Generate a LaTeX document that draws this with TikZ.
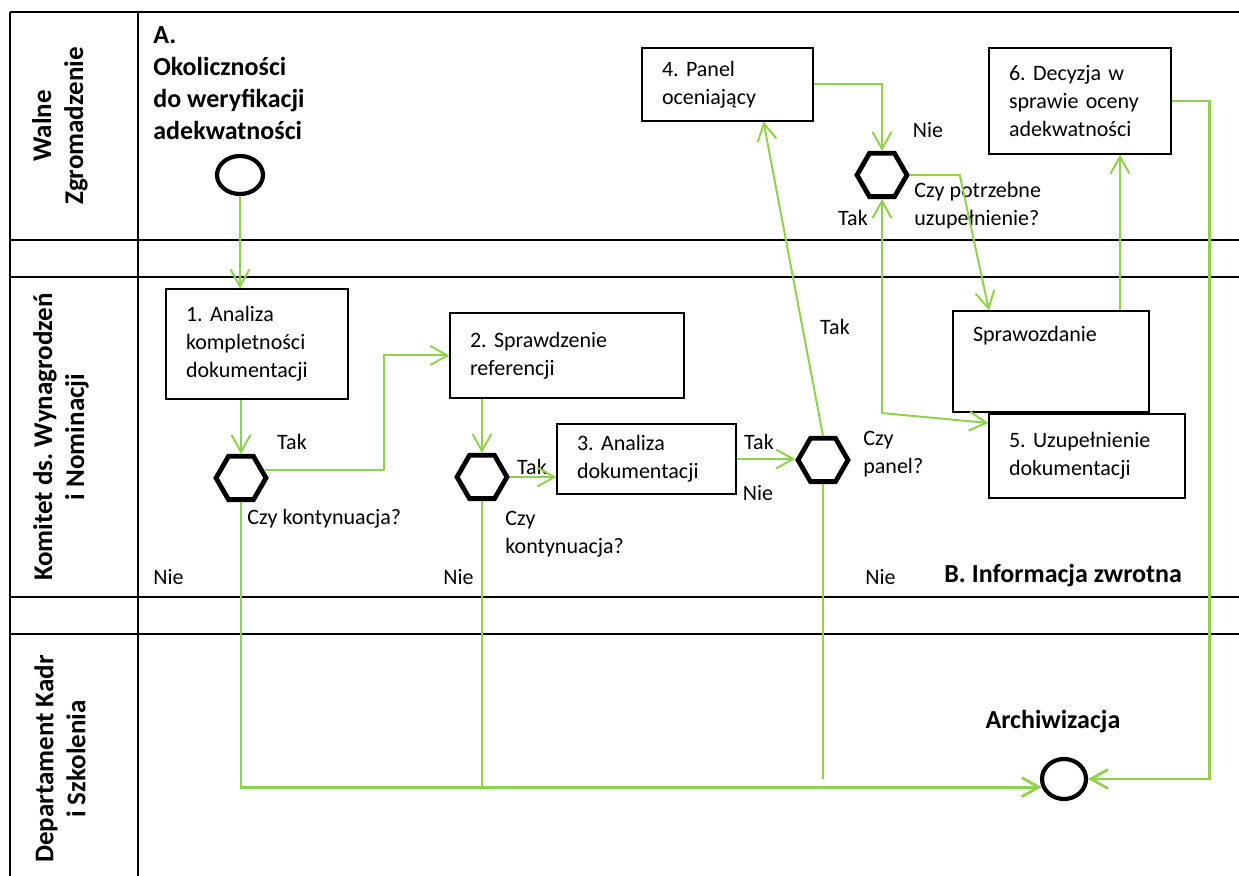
\documentclass[tikz,border=0pt]{standalone}
\usepackage{fontspec}
\setmainfont{Carlito}
\usepackage{tikz}
\usetikzlibrary{arrows.meta,shapes.geometric}
\definecolor{yellowgreen3}{RGB}{146,208,80}
\frenchspacing

\begin{document}
\begin{tikzpicture}
  [x=0.5pt,y=-0.5pt,>={Straight Barb[length=8.5pt,width=9.5pt]},
    every node/.style={font=\fontsize{11}{14}\selectfont,align=left,inner sep=0pt},
    box/.style={draw,line width=0.6pt,inner xsep=10pt,inner ysep=0pt},
    gate/.style={draw,line width=2.4pt,regular polygon,regular polygon sides=6,minimum size=25pt},
    event/.style={draw,ellipse,line width=2.1pt,minimum width=23pt,minimum height=19pt},
    heading/.style={font=\fontsize{13}{16}\selectfont\bfseries},
    lanelabel/.style={font=\fontsize{13.5}{16}\selectfont\bfseries,rotate=90,align=center},
    laneline/.style={line width=1pt},
    link/.style={draw=yellowgreen3,line width=1pt},
    flow/.style={link,->}]
  \useasboundingbox (0,0) rectangle (1239,876);
  \foreach \y in {12,240,277,597,634}
    \draw[laneline] (10,\y) -- (1239,\y);
  \draw[line width=0.7pt] (10,12) -- (10,876) (138,12) -- (138,876);
  \node[lanelabel] (wz) at (60,126) {Walne\\Zgromadzenie};
  \node[lanelabel] (kwn) at (61,437) {Komitet ds. Wynagrodzeń\\i Nominacji};
  \node[lanelabel] (dks) at (60,759) {Departament Kadr\\i Szkolenia};
  \node[heading,anchor=west] (intro) at (153,83) {A.\\Okoliczności\\do weryfikacji\\adekwatności};
  \node[event] (start) at (240,175) {};
  \node[event,minimum width=22pt,minimum height=20pt] (end) at (1064,779) {};
  \node[heading] (arch) at (1053,722) {Archiwizacja};
  \node[heading,anchor=west] (fb) at (944,576) {B. Informacja zwrotna};
  \node[box,text width=71pt,minimum height=55pt] (box1) at (257,344) {1. Analiza\\kompletności\\dokumentacji};
  \node[box,text width=97pt,minimum height=42.5pt] (box2) at (567,355.5) {2. Sprawdzenie\\referencji};
  \node[box,text width=69.5pt,minimum height=35pt] (box3) at (646.5,459) {3. Analiza\\dokumentacji};
  \node[box,text width=65.5pt,minimum height=36.5pt] (box4) at (727.5,84.5) {4. Panel\\oceniający};
  \node[box,text width=78pt,minimum height=42pt] (box5) at (1087,456) {5. Uzupełnienie\\dokumentacji};
  \node[box,text width=71pt,minimum height=53pt] (box6) at (1080,101) {6. Decyzja w\\sprawie oceny\\adekwatności};
  \node[box,text width=78pt,minimum height=50.5pt] (report) at (1051,361.5) {Sprawozdanie\\~\\~};
  \node[gate] (hex1) at (241,478) {};
  \node[gate] (hex2) at (482,477) {};
  \node[gate] (hex3) at (823,460) {};
  \node[gate] (hex4) at (882,175) {};
  \node (tak1) at (292,442) {Tak};
  \node[anchor=west] (q1) at (247,519) {Czy kontynuacja?};
  \node[anchor=west] (nie1) at (153,577) {Nie};
  \node (tak2) at (532,467) {Tak};
  \node[anchor=west] (q2) at (505,534) {Czy\\kontynuacja?};
  \node[anchor=west] (nie2) at (443,577) {Nie};
  \node (tak3) at (759,442) {Tak};
  \node (nie3) at (758,493) {Nie};
  \node[anchor=west] (q3) at (863,454.5) {Czy\\panel?};
  \node (tak4) at (835,327) {Tak};
  \node[anchor=west] (nie4) at (865,577) {Nie};
  \node (nie5) at (928,130) {Nie};
  \node[anchor=west] (q4) at (914,206) {Czy potrzebne\\uzupełnienie?};
  \node (tak5) at (853,218) {Tak};
  \draw[flow] (start) -- (start |- box1.north);
  \draw[flow] (hex1 |- box1.south) -- (hex1);
  \draw[flow] (hex1.20) -- ++(120,0) |- (box2.west);
  \draw[flow] (hex2 |- box2.south) -- (hex2);
  \draw[flow] (hex2.east) -- (hex2.east -| box3.west);
  \draw[flow] (box3.east) -- (box3.east -| hex3.west);
  \draw[flow] (hex3.north) -- ([xshift=18pt]box4.south);
  \draw[flow] (box4.east) -| (hex4.north);
  \draw[flow] (hex4.east) -- ++(50,0) -- ([xshift=-31pt]report.north);
  \draw[link,<->] (hex4.south) -- ++(0,214) -- ([yshift=16.5pt]box5.west);
  \draw[flow] ([xshift=34.5pt]report.north) -- ([xshift=34.5pt]report.north |- box6.south);
  \draw[flow,line width=1.4pt] (box6.east) -- ++(38,0) |- (end.east);
  \draw[flow,line width=1.4pt] (hex1.south) |- (end.200);
  \draw[link] (hex2.south) -- (hex2.south |- end.200);
  \draw[link] (hex3.south) -- (hex3.south |- end.center);
\end{tikzpicture}
\end{document}
